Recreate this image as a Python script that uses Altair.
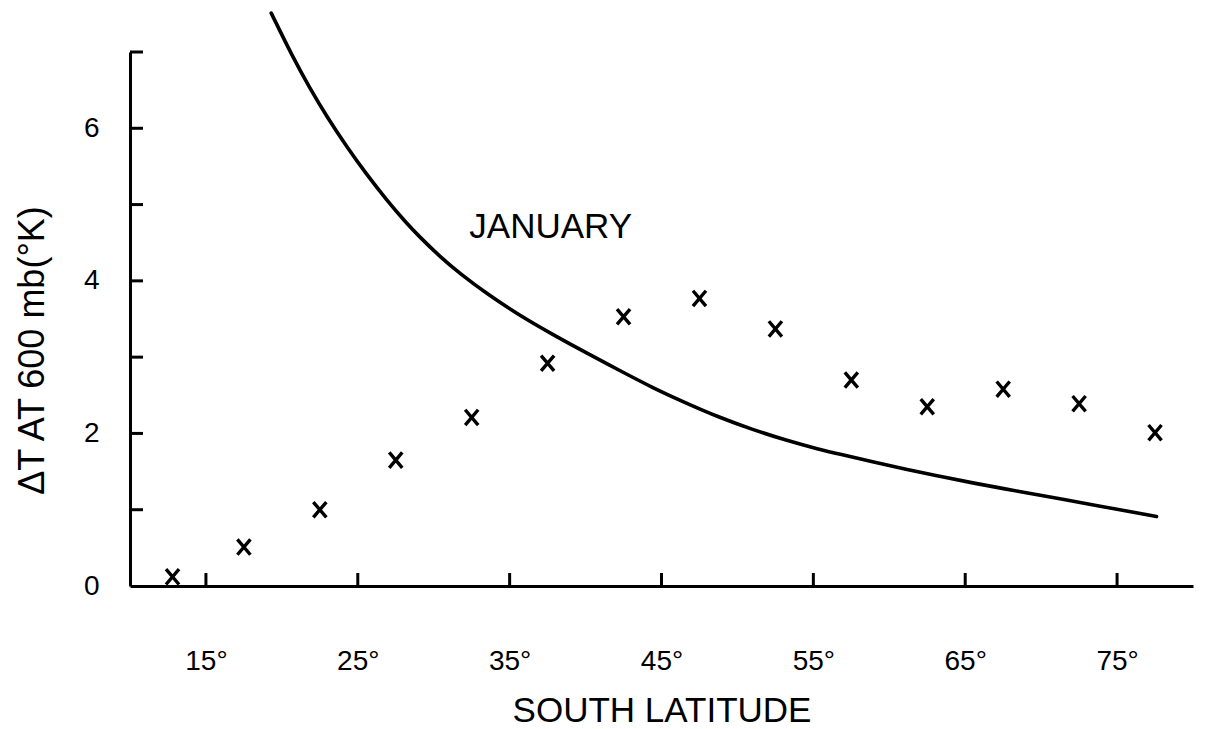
import altair as alt
import pandas as pd

# Observed zonal values (crosses)
lat_pts = [12.8, 17.5, 22.5, 27.5, 32.5, 37.5, 42.5, 47.5, 52.5, 57.5, 62.5, 67.5, 72.5, 77.5]
dT_pts = [0.12, 0.51, 1.00, 1.65, 2.21, 2.92, 3.53, 3.77, 3.37, 2.70, 2.35, 2.58, 2.39, 2.01]

# January curve
curve_lat = [19.3, 20.7, 21.8, 23.0, 24.3, 25.6, 26.9, 28.1, 29.1, 30.4, 31.7, 33.5, 35.7,
             37.8, 40.1, 42.2, 44.4, 46.6, 48.8, 51.0, 53.2, 55.4, 56.7, 58.9, 61.1, 63.3,
             65.5, 67.7, 69.4, 71.6, 73.8, 76.0, 77.6]
curve_dT = [7.51, 6.94, 6.54, 6.14, 5.75, 5.39, 5.06, 4.78, 4.57, 4.32, 4.10, 3.83, 3.54,
            3.30, 3.05, 2.83, 2.60, 2.40, 2.21, 2.05, 1.91, 1.79, 1.73, 1.63, 1.53, 1.44,
            1.35, 1.27, 1.21, 1.13, 1.05, 0.97, 0.91]

x_tick_vals = [15, 25, 35, 45, 55, 65, 75]
y_label_vals = [0, 2, 4, 6]
y_tick_vals = [1, 2, 3, 4, 5, 6, 7]

label_text = ["JANUARY"]
label_lat = [37.7]
label_dT = [4.71]

FONT = "Liberation Sans"
W, H = 1063, 534

pts = pd.DataFrame({"lat": lat_pts, "dT": dT_pts})
curve = pd.DataFrame({"lat": curve_lat, "dT": curve_dT})
xt = pd.DataFrame({"lat": x_tick_vals})
yt = pd.DataFrame({"dT": y_tick_vals})
lab = pd.DataFrame({"lat": label_lat, "dT": label_dT, "t": label_text})

x_scale = alt.Scale(domain=[10, 80], nice=False, zero=False)
y_scale = alt.Scale(domain=[0, 7], nice=False, zero=False)

X = alt.X(
    "lat:Q",
    scale=x_scale,
    axis=alt.Axis(
        values=x_tick_vals,
        labelExpr="datum.value + '°'",
        ticks=False,
        grid=False,
        labelPadding=61,
        labelFlush=False,
        labelOverlap=False,
        title="SOUTH  LATITUDE",
        titlePadding=18,
        titleFontSize=35,
    ),
)
Y = alt.Y(
    "dT:Q",
    scale=y_scale,
    axis=alt.Axis(
        values=y_label_vals,
        ticks=False,
        grid=False,
        labelPadding=31,
        labelFlush=False,
        labelOverlap=False,
        title="ΔT  AT 600 mb(°K)",
        titleFontSize=36,
        titleX=-87,
        titleY=298,
        titleBaseline="alphabetic",
    ),
)

cross_path = "M-0.85,-1L0.85,1M0.85,-1L-0.85,1"

points = alt.Chart(pts).mark_point(
    shape=cross_path, size=235, stroke="black", strokeWidth=3.4, filled=False, opacity=1
).encode(x=X, y=Y)

line = alt.Chart(curve).mark_line(
    color="black", strokeWidth=3.6, interpolate="basis", clip=False, strokeCap="round"
).encode(x=X, y=Y, order="lat:Q")

xticks = alt.Chart(xt).mark_rule(color="black", strokeWidth=3).encode(
    x=X, y=alt.value(H), y2=alt.value(H - 13)
)
yticks = alt.Chart(yt).mark_rule(color="black", strokeWidth=3).encode(
    y=Y, x=alt.value(0), x2=alt.value(13)
)

text = alt.Chart(lab).mark_text(
    font=FONT, fontSize=35, color="black", align="center", baseline="middle"
).encode(x=X, y=Y, text="t:N")

chart = (
    alt.layer(line, points, xticks, yticks, text)
    .properties(
        width=W,
        height=H,
        background="white",
        autosize=alt.AutoSizeParams(type="none"),
        padding={"left": 122, "top": 44, "right": 5, "bottom": 150},
    )
    .configure_axis(
        domainColor="black",
        domainWidth=3,
        labelFont=FONT,
        labelFontSize=28,
        labelColor="black",
        titleFont=FONT,
        titleFontWeight="normal",
        titleColor="black",
    )
    .configure_view(stroke=None)
)

chart.save("out.html", embed_options={"renderer": "svg", "actions": False})
